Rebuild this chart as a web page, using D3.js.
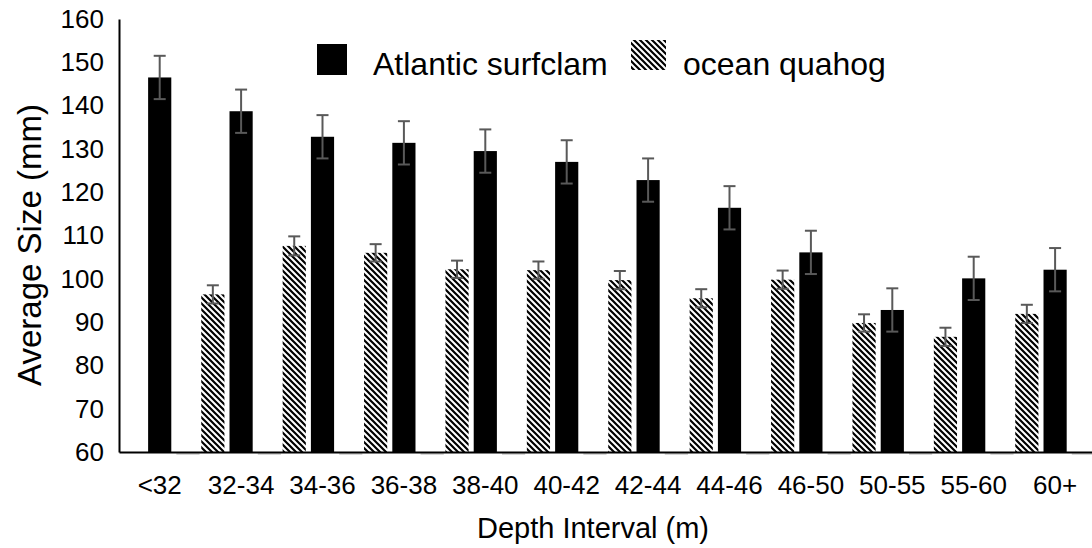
<!DOCTYPE html>
<html>
<head>
<meta charset="utf-8">
<script src="https://cdn.jsdelivr.net/npm/d3@7"></script>
<style>
  html, body { margin: 0; padding: 0; background: #fff; }
  svg { display: block; font-family: "Liberation Sans", Arial, sans-serif; }
</style>
</head>
<body>
<svg id="chart" width="1092" height="548"></svg>
<script>
const categories = ["<32","32-34","34-36","36-38","38-40","40-42","42-44","44-46","46-50","50-55","55-60","60+"];
const surfclam    = [146.5,138.7,132.8,131.4,129.5,127.0,122.8,116.4,106.1,92.8,100.1,102.1];
const surfclamErr = [5,5,5,5,5,5,5,5,5,5,5,5];
const quahog      = [null,96.4,107.6,106.0,102.2,102.0,99.7,95.5,99.8,89.8,86.6,91.9];
const quahogErr   = [null,2.1,2.2,2.0,2.0,2.0,2.1,2.1,2.1,2.0,2.1,2.1];
const yTicks = [60,70,80,90,100,110,120,130,140,150,160];
const seriesNames = ["ocean quahog","Atlantic surfclam","(blank)"];

const svg = d3.select("#chart");
const plotLeft = 119, plotBottom = 452, plotTop = 19, catStep = 81.4;

const x = d3.scaleBand().domain(categories).range([plotLeft, plotLeft + catStep * categories.length]).padding(0);
const xs = d3.scaleBand().domain(seriesNames).range([0, x.bandwidth()]).paddingInner(0.18).paddingOuter(0.03);
const y = d3.scaleLinear().domain([60,160]).range([plotBottom, plotTop]);

const defs = svg.append("defs");
const pat = defs.append("pattern").attr("id","hatch").attr("patternUnits","userSpaceOnUse")
  .attr("width",6).attr("height",6);
pat.append("rect").attr("width",6).attr("height",6).attr("fill","#fff");
pat.append("path").attr("d","M-1,-1L7,7M-1,5L1,7M5,-1L7,1").attr("stroke","#000").attr("stroke-width",2.2);

// faint third-series stubs
svg.append("g").selectAll("line").data(categories).join("line")
  .attr("x1", d => x(d) + xs("(blank)")).attr("x2", d => x(d) + xs("(blank)") + xs.bandwidth())
  .attr("y1", plotBottom + 2).attr("y2", plotBottom + 2)
  .attr("stroke","#c8c8c8").attr("stroke-width",1.5);

const qData = categories.map((c,i) => ({c, v: quahog[i], e: quahogErr[i]})).filter(d => d.v != null);
const sData = categories.map((c,i) => ({c, v: surfclam[i], e: surfclamErr[i]}));

svg.append("g").selectAll("rect").data(qData).join("rect")
  .attr("x", d => x(d.c) + xs("ocean quahog")).attr("width", xs.bandwidth())
  .attr("y", d => y(d.v)).attr("height", d => plotBottom - y(d.v))
  .attr("fill","url(#hatch)");

svg.append("g").selectAll("rect").data(sData).join("rect")
  .attr("x", d => x(d.c) + xs("Atlantic surfclam")).attr("width", xs.bandwidth())
  .attr("y", d => y(d.v)).attr("height", d => plotBottom - y(d.v))
  .attr("fill","#000");

function errBars(data, key) {
  const g = svg.append("g").attr("stroke","#595959").attr("stroke-width",2);
  const cx = d => x(d.c) + xs(key) + xs.bandwidth()/2;
  g.selectAll(".v").data(data).join("line").attr("class","v")
    .attr("x1",cx).attr("x2",cx).attr("y1",d=>y(d.v+d.e)).attr("y2",d=>y(d.v-d.e));
  g.selectAll(".t").data(data).join("line").attr("class","t")
    .attr("x1",d=>cx(d)-6).attr("x2",d=>cx(d)+6).attr("y1",d=>y(d.v+d.e)).attr("y2",d=>y(d.v+d.e));
  g.selectAll(".b").data(data).join("line").attr("class","b")
    .attr("x1",d=>cx(d)-6).attr("x2",d=>cx(d)+6).attr("y1",d=>y(d.v-d.e)).attr("y2",d=>y(d.v-d.e));
}
errBars(qData, "ocean quahog");
errBars(sData, "Atlantic surfclam");

// axes
const yAxis = d3.axisLeft(y).tickValues(yTicks).tickSize(0).tickPadding(15);
const gy = svg.append("g").attr("transform",`translate(${plotLeft},0)`).call(yAxis);
gy.select(".domain").attr("stroke","#000").attr("stroke-width",2);
gy.selectAll("text").attr("font-size",26).attr("fill","#000").attr("font-family","Liberation Sans, Arial, sans-serif");

const xAxis = d3.axisBottom(x).tickSize(0).tickPadding(24);
const gx = svg.append("g").attr("transform",`translate(0,${plotBottom})`).call(xAxis);
gx.select(".domain").attr("stroke","#000").attr("stroke-width",2);
gx.selectAll("text").attr("font-size",26).attr("fill","#000").attr("font-family","Liberation Sans, Arial, sans-serif");

svg.append("text").attr("x", 593).attr("y", 538).attr("text-anchor","middle")
  .attr("font-size",29).attr("fill","#000").text("Depth Interval (m)");
svg.append("text").attr("transform","translate(41,245) rotate(-90)").attr("text-anchor","middle")
  .attr("font-size",33).attr("fill","#000").text("Average Size (mm)");

// legend
const lg = svg.append("g");
lg.append("rect").attr("x",317).attr("y",44).attr("width",30).attr("height",31).attr("fill","#000");
lg.append("text").attr("x",373).attr("y",75).attr("font-size",32).attr("fill","#000").text("Atlantic surfclam");
lg.append("rect").attr("x",631).attr("y",40).attr("width",35).attr("height",30).attr("fill","url(#hatch)");
lg.append("text").attr("x",683).attr("y",75).attr("font-size",32).attr("fill","#000").text("ocean quahog");
</script>
</body>
</html>
